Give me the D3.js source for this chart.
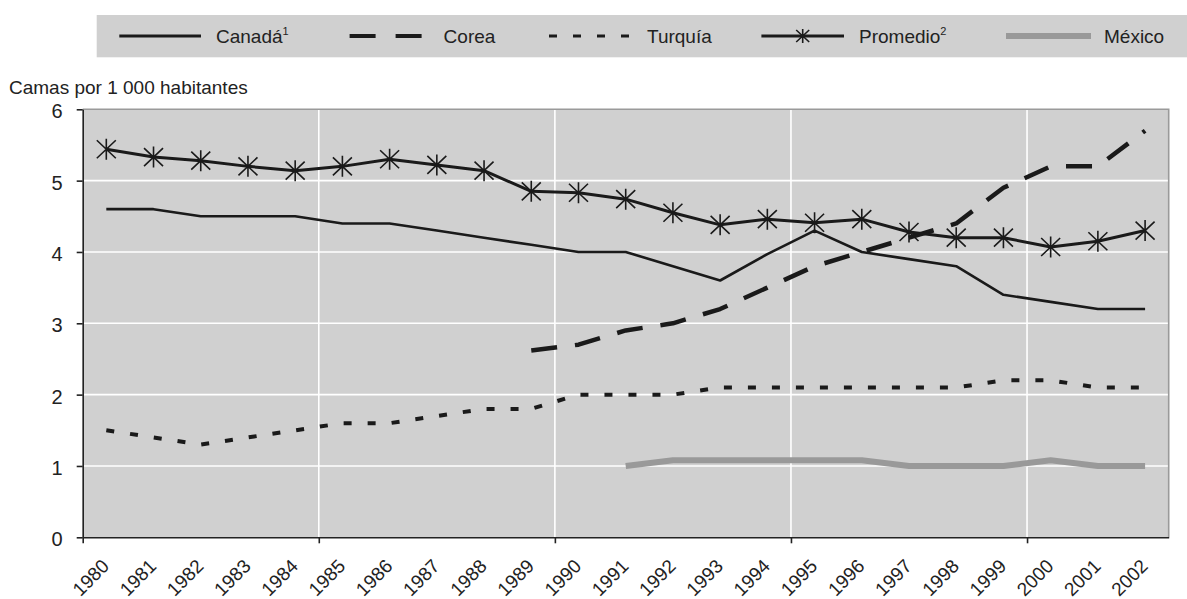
<!DOCTYPE html>
<html>
<head>
<meta charset="utf-8">
<script src="https://cdn.jsdelivr.net/npm/d3@7"></script>
<style>
  html, body { margin: 0; padding: 0; background: #fff; }
  svg { display: block; }
  text { font-family: "Liberation Sans", Arial, sans-serif; fill: #222; }
</style>
</head>
<body>
<svg id="chart" width="1187" height="599"></svg>
<script>
// ---- data ----
const years = [1980,1981,1982,1983,1984,1985,1986,1987,1988,1989,1990,1991,
               1992,1993,1994,1995,1996,1997,1998,1999,2000,2001,2002];
const canada   = [4.6,4.6,4.5,4.5,4.5,4.4,4.4,4.3,4.2,4.1,4.0,4.0,3.8,3.6,3.97,4.3,4.0,3.9,3.8,3.4,3.3,3.2,3.2];
const corea    = [null,null,null,null,null,null,null,null,null,2.62,2.7,2.9,3.0,3.2,3.5,3.8,4.0,4.2,4.4,4.9,5.2,5.2,5.7];
const turquia  = [1.5,1.4,1.3,1.4,1.5,1.6,1.6,1.7,1.8,1.8,2.0,2.0,2.0,2.1,2.1,2.1,2.1,2.1,2.1,2.2,2.2,2.1,2.1];
const promedio = [5.44,5.33,5.28,5.2,5.14,5.2,5.3,5.22,5.14,4.85,4.83,4.74,4.55,4.38,4.46,4.41,4.46,4.28,4.2,4.2,4.07,4.15,4.3];
const mexico   = [null,null,null,null,null,null,null,null,null,null,null,1.0,1.08,1.08,1.08,1.08,1.08,1.0,1.0,1.0,1.08,1.0,1.0];
const yTicks = [0,1,2,3,4,5,6];
const xTickYears = [1980,1985,1990,1995,2000];
const yTitle = "Camas por 1 000 habitantes";
const legendItems = [
  {name: "Canadá", sup: "1", key: "canada"},
  {name: "Corea", sup: "", key: "corea"},
  {name: "Turquía", sup: "", key: "turquia"},
  {name: "Promedio", sup: "2", key: "promedio"},
  {name: "México", sup: "", key: "mexico"}
];

// ---- layout ----
const L = 82.7, R = 1168.7, T = 109.3, B = 537.3;
const svg = d3.select("#chart");

const styles = {
  canada:   {stroke: "#1a1a1a", width: 2.6, dash: null},
  corea:    {stroke: "#1a1a1a", width: 4.5, dash: "26,18"},
  turquia:  {stroke: "#1a1a1a", width: 4, dash: "8,16"},
  promedio: {stroke: "#1a1a1a", width: 3, dash: null},
  mexico:   {stroke: "#999999", width: 6, dash: null}
};
const seriesData = {canada, corea, turquia, promedio, mexico};

const xBand = d3.scaleBand().domain(years).range([L, R]).padding(0);
const xLin = d3.scaleLinear().domain([1980, 2003]).range([L, R]);
const y = d3.scaleLinear().domain([0, 6]).range([B, T]);

// plot background
svg.append("rect").attr("x", L).attr("y", T).attr("width", R - L).attr("height", B - T)
  .attr("fill", "#d0d0d0");

// gridlines
svg.append("g").selectAll("line").data(yTicks.filter(d => d > 0 && d < 6)).join("line")
  .attr("x1", L).attr("x2", R).attr("y1", d => y(d)).attr("y2", d => y(d))
  .attr("stroke", "#ffffff").attr("stroke-width", 1.6);
svg.append("g").selectAll("line").data(xTickYears.filter(d => d > 1980)).join("line")
  .attr("x1", d => xLin(d)).attr("x2", d => xLin(d)).attr("y1", T).attr("y2", B)
  .attr("stroke", "#ffffff").attr("stroke-width", 1.6);

// top/right border
svg.append("path").attr("d", `M${L},${T}H${R}V${B}`).attr("fill", "none")
  .attr("stroke", "#9a9a9a").attr("stroke-width", 1.6);

// series lines
const line = d3.line()
  .defined(d => d.v !== null)
  .x(d => xBand(d.year) + xBand.bandwidth() / 2)
  .y(d => y(d.v));

["mexico", "turquia", "corea", "canada", "promedio"].forEach(key => {
  const s = styles[key];
  const pts = years.map((yr, i) => ({year: yr, v: seriesData[key][i]}));
  svg.append("path").datum(pts).attr("d", line)
    .attr("fill", "none").attr("stroke", s.stroke).attr("stroke-width", s.width)
    .attr("stroke-dasharray", s.dash).attr("stroke-linejoin", "round");
});

// asterisk markers
const starPath = "M0,-10.5L0,10.5M-9.5,-9L9.5,9M-9.5,9L9.5,-9";
svg.append("g").selectAll("path")
  .data(years.map((yr, i) => ({year: yr, v: promedio[i]})))
  .join("path")
  .attr("transform", d => `translate(${xBand(d.year) + xBand.bandwidth() / 2},${y(d.v)})`)
  .attr("d", starPath).attr("stroke", "#1a1a1a").attr("stroke-width", 1.6).attr("fill", "none");

// y axis
const yAxis = svg.append("g").attr("transform", `translate(${L},0)`)
  .call(d3.axisLeft(y).tickValues(yTicks).tickFormat(d3.format("d"))
    .tickSize(6).tickPadding(14).tickSizeOuter(0));
yAxis.select(".domain").attr("stroke", "#222").attr("stroke-width", 1.6);
yAxis.selectAll(".tick line").attr("stroke", "#222").attr("stroke-width", 1.6);
yAxis.selectAll(".tick text").attr("font-size", 20).attr("fill", "#222")
  .attr("font-family", "Liberation Sans, Arial, sans-serif").attr("dy", "0.42em");

// x axis ticks (every 5 years)
const xAxis = svg.append("g").attr("transform", `translate(0,${B})`)
  .call(d3.axisBottom(xLin).tickValues(xTickYears).tickFormat("").tickSize(6).tickSizeOuter(0));
xAxis.select(".domain").attr("stroke", "#222").attr("stroke-width", 1.6);
xAxis.selectAll(".tick line").attr("stroke", "#222").attr("stroke-width", 1.6);

// x labels
const xLab = svg.append("g").attr("transform", `translate(0,${B})`)
  .call(d3.axisBottom(xBand).tickSize(0).tickSizeOuter(0));
xLab.select(".domain").remove();
xLab.selectAll(".tick text")
  .attr("x", 0).attr("y", 0).attr("dy", 0)
  .attr("font-size", 19).attr("fill", "#222")
  .attr("font-family", "Liberation Sans, Arial, sans-serif")
  .attr("text-anchor", "end")
  .attr("transform", "translate(4,30) rotate(-45)");

// y title
svg.append("text").attr("x", 9).attr("y", 94).attr("font-size", 19).text(yTitle);

// legend
svg.append("rect").attr("x", 96.7).attr("y", 15).attr("width", 1187 - 96.7).attr("height", 42.3)
  .attr("fill", "#d0d0d0");
const legendPos = {
  canada:   {x1: 119.3, x2: 201, tx: 216},
  corea:    {x1: 349.6, x2: 422, tx: 443.6},
  turquia:  {x1: 549, x2: 630, tx: 647},
  promedio: {x1: 761.4, x2: 844, tx: 859},
  mexico:   {x1: 1006, x2: 1091, tx: 1104}
};
const ly = 36;
legendItems.forEach(it => {
  const p = legendPos[it.key], s = styles[it.key];
  let dash = s.dash;
  if (it.key === "corea") dash = "26,20";
  svg.append("line").attr("x1", p.x1).attr("x2", p.x2).attr("y1", ly).attr("y2", ly)
    .attr("stroke", s.stroke).attr("stroke-width", it.key === "mexico" ? 6 : (it.key === "corea" ? 4 : 3.2))
    .attr("stroke-dasharray", dash);
  if (it.key === "promedio") {
    svg.append("path").attr("transform", `translate(${(p.x1 + p.x2) / 2},${ly})`)
      .attr("d", "M0,-7L0,7M-6.5,-6L6.5,6M-6.5,6L6.5,-6")
      .attr("stroke", "#1a1a1a").attr("stroke-width", 1.6);
  }
  const t = svg.append("text").attr("x", p.tx).attr("y", ly + 7).attr("font-size", 19);
  t.append("tspan").text(it.name);
  if (it.sup) t.append("tspan").attr("font-size", 11).attr("dy", -8).text(it.sup);
});
</script>
</body>
</html>
